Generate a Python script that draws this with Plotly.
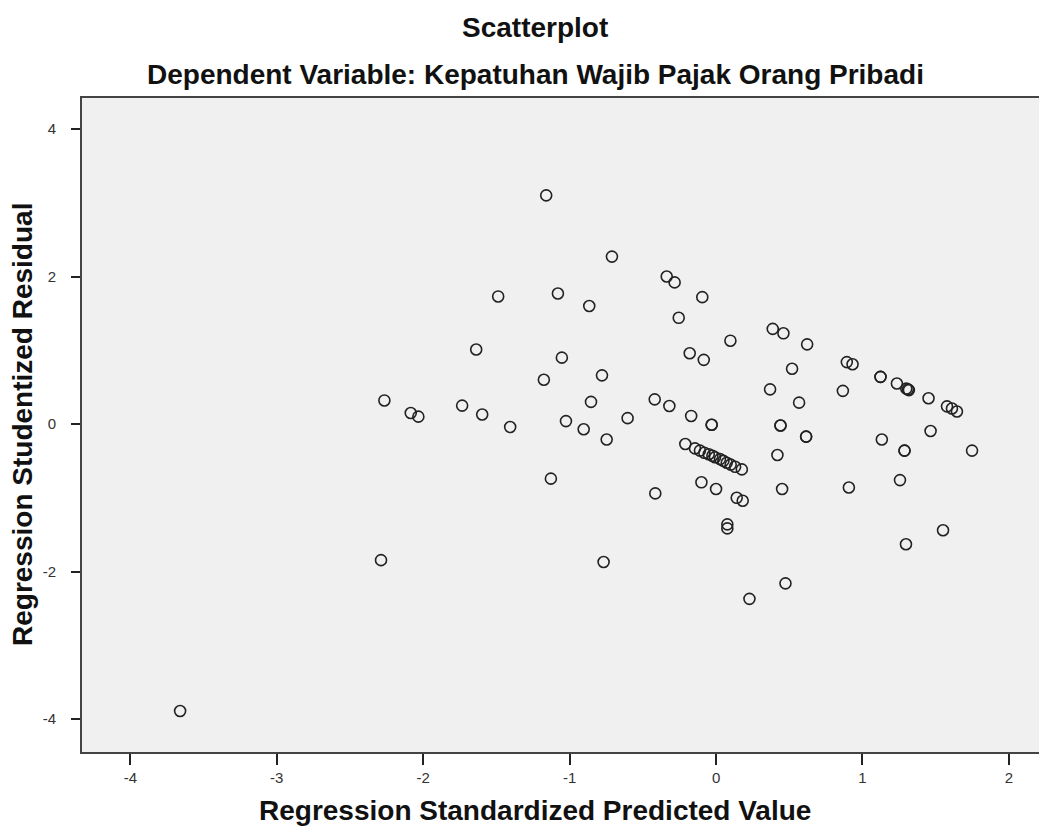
import plotly.graph_objects as go

# Regression Standardized Predicted Value (x) and Regression Studentized Residual (y)
pred_value = [
    -1.16, -0.711, -0.337, -0.283, -1.488, -1.080, -0.866, -0.255, -1.638, -1.053,
    -0.18, -1.176, -0.779, -2.265, -2.085, -2.033, -1.734, -1.597, -1.406, -0.854,
    -1.025, -0.904, -0.747, -0.604, -0.419, -0.319, -0.17, -0.21,
    -0.094, 0.387, 0.46, 0.622, 0.098, -0.084, 0.519, 0.893, 0.932,
    1.123, 1.123, 1.235, 1.299, 1.317, 1.31, 1.451, 1.577, 1.611, 1.645,
    0.369, 0.866, 0.567,
    -0.03, -0.03, 0.44, 0.44, 0.615, 0.615, 1.132, 1.465, 1.287, 1.287, 1.748,
    -0.144, -0.11, -0.08, -0.05, -0.025, -0.007, 0.027, 0.05, 0.073, 0.10, 0.13, 0.176,
    0.419, -0.1, 0.0, -0.415, 0.141, 0.182, 0.451, 0.907, 1.256,
    0.077, 0.077, 1.55, 1.297, 0.474, 0.228, -0.768, -2.288, -1.128, -3.66,
]
stud_residual = [
    3.10, 2.27, 2.00, 1.92, 1.73, 1.77, 1.60, 1.44, 1.01, 0.90,
    0.96, 0.60, 0.66, 0.32, 0.15, 0.10, 0.25, 0.13, -0.04, 0.30,
    0.04, -0.07, -0.21, 0.08, 0.335, 0.244, 0.11, -0.27,
    1.72, 1.29, 1.23, 1.08, 1.13, 0.87, 0.75, 0.84, 0.81,
    0.64, 0.64, 0.55, 0.48, 0.46, 0.47, 0.35, 0.24, 0.21, 0.17,
    0.47, 0.45, 0.29,
    -0.01, -0.01, -0.02, -0.02, -0.17, -0.17, -0.21, -0.095, -0.36, -0.36, -0.36,
    -0.33, -0.36, -0.39, -0.41, -0.43, -0.45, -0.475, -0.50, -0.525, -0.55, -0.58, -0.615,
    -0.42, -0.79, -0.88, -0.94, -1.0, -1.04, -0.88, -0.86, -0.76,
    -1.36, -1.415, -1.44, -1.63, -2.16, -2.37, -1.87, -1.845, -0.74, -3.89,
]

x_ticks = [-4, -3, -2, -1, 0, 1, 2]
y_ticks = [-4, -2, 0, 2, 4]

title_text = "Scatterplot"
subtitle_text = "Dependent Variable: Kepatuhan Wajib Pajak Orang Pribadi"
x_title = "Regression Standardized Predicted Value"
y_title = "Regression Studentized Residual"

fig = go.Figure()
fig.add_trace(go.Scatter(
    x=pred_value, y=stud_residual, mode="markers",
    marker=dict(symbol="circle-open", size=11, color="#222222",
                line=dict(width=1.6)),
    hoverinfo="x+y", showlegend=False,
))

# page has an 8px body margin; figure sized to fill the rest of the window
W, H = 1039, 825
L, R, T, B = 74, 0, 90, 81
PW, PH = W - L - R, H - T - B


def px(xp):
    return (xp - L) / PW


def py(yp):
    return 1 - (yp - T) / PH


title_font = dict(family="Liberation Sans, Arial, sans-serif", size=28, color="#111111")

fig.update_layout(
    width=W, height=H,
    margin=dict(l=L, r=R, t=T, b=B),
    paper_bgcolor="white",
    plot_bgcolor="#F0F0F0",
    font=dict(family="Liberation Sans, Arial, sans-serif", color="#222222"),
    xaxis=dict(
        range=[-4.33, 2.26], tickvals=x_ticks, ticktext=[str(v) for v in x_ticks],
        showgrid=False, zeroline=False,
        showline=True, linecolor="#444444", linewidth=2, mirror=True,
        ticks="outside", ticklen=11, tickwidth=2, tickcolor="#222222",
        tickfont=dict(size=15, color="#333333"),
    ),
    yaxis=dict(
        range=[-4.446, 4.42], tickvals=y_ticks, ticktext=[str(v) for v in y_ticks],
        showgrid=False, zeroline=False,
        showline=True, linecolor="#444444", linewidth=2,
        ticks="outside", ticklen=9, tickwidth=1.5, tickcolor="#222222",
        tickfont=dict(size=15, color="#333333"), ticklabelstandoff=12,
    ),
    annotations=[
        dict(text="<b>" + title_text + "</b>", xref="paper", yref="paper",
             x=px(527), y=py(20), xanchor="center", yanchor="middle",
             showarrow=False, font=title_font),
        dict(text="<b>" + subtitle_text + "</b>", xref="paper", yref="paper",
             x=px(527), y=py(67), xanchor="center", yanchor="middle",
             showarrow=False, font=title_font),
        dict(text="<b>" + x_title + "</b>", xref="paper", yref="paper",
             x=px(527), y=py(802), xanchor="center", yanchor="middle",
             showarrow=False, font=title_font),
        dict(text="<b>" + y_title + "</b>", xref="paper", yref="paper",
             x=px(14), y=py(417), xanchor="center", yanchor="middle",
             textangle=-90, showarrow=False, font=title_font),
    ],
)

fig.write_html("out.html")
